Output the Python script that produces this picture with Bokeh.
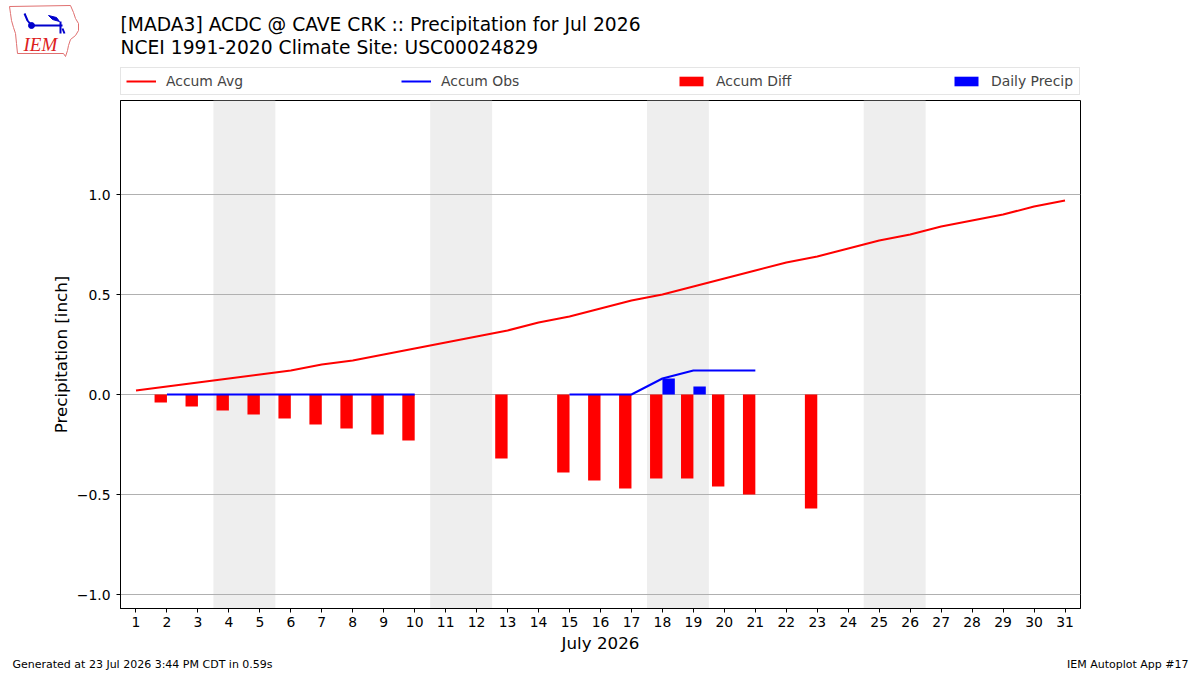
from bokeh.plotting import figure
from bokeh.layouts import column
from bokeh.models import (Legend, LegendItem, Title, BoxAnnotation, FixedTicker,
                          Range1d, ColumnDataSource, CustomJSTickFormatter)
from bokeh.transform import dodge
from bokeh.core.properties import value
from bokeh.embed import file_html
from bokeh.resources import INLINE

nan = float("nan")

# ---------------- data ----------------
days = list(range(1, 32))
accum_avg = [0.02, 0.04, 0.06, 0.08, 0.10, 0.12, 0.15, 0.17, 0.20, 0.23,
             0.26, 0.29, 0.32, 0.36, 0.39, 0.43, 0.47, 0.50, 0.54, 0.58,
             0.62, 0.66, 0.69, 0.73, 0.77, 0.80, 0.84, 0.87, 0.90, 0.94, 0.97]
accum_obs = [nan, 0, 0, 0, 0, 0, 0, 0, 0, 0,
             nan, nan, 0, nan, 0, 0, 0, 0.08, 0.12, 0.12,
             0.12, nan, 0.12, nan, nan, nan, nan, nan, nan, nan, nan]
diff_days = [2, 3, 4, 5, 6, 7, 8, 9, 10, 13, 15, 16, 17, 18, 19, 20, 21, 23]
diff_vals = [-0.04, -0.06, -0.08, -0.10, -0.12, -0.15, -0.17, -0.20, -0.23,
             -0.32, -0.39, -0.43, -0.47, -0.42, -0.42, -0.46, -0.50, -0.57]
precip_days = [18, 19]
precip_vals = [0.08, 0.04]
weekend_days = [4, 5, 11, 12, 18, 19, 25, 26]
y_ticks = [-1.0, -0.5, 0.0, 0.5, 1.0]
series_labels = ["Accum Avg", "Accum Obs", "Accum Diff", "Daily Precip"]

title1 = "[MADA3] ACDC @ CAVE CRK :: Precipitation for Jul 2026"
title2 = "NCEI 1991-2020 Climate Site: USC00024829"
footer_left = "Generated at 23 Jul 2026 3:44 PM CDT in 0.59s"
footer_right = "IEM Autoplot App #17"

# ---------------- layout constants ----------------
W, H = 1200, 675
HEAD = 96                      # header strip height (titles, logo, legend)
FL, FR, FT, FB = 120, 120, 4, 67
FONT = "DejaVu Sans"

# ================= header strip =================
h = figure(width=W, height=HEAD, output_backend="svg", toolbar_location=None,
           min_border=0, x_axis_type=None, y_axis_type=None)
p = figure(width=W, height=H - HEAD, x_range=Range1d(0.5, 31.5), y_range=Range1d(-1.07, 1.47),
           output_backend="svg", toolbar_location=None,
           min_border_left=FL, min_border_right=FR, min_border_top=FT, min_border_bottom=FB)

# keep the header's frame full-width (do not align it with the chart's frame)
try:
    h.frame_align = False
    p.frame_align = False
    HX0, HX1 = 0, W
except Exception:
    HX0, HX1 = FL, W - FR
h.x_range = Range1d(HX0, HX1)
h.y_range = Range1d(HEAD, 0)

h.grid.visible = False
h.outline_line_color = None
h.background_fill_color = "white"
h.border_fill_color = "white"

h.text(x=[120, 120], y=[24, 47], text=[title1, title2], text_font=value(FONT),
       text_font_size="18.7px", text_baseline="middle", text_align="left",
       text_color="black")

# logo (IEM: Iowa outline, weather vane, "IEM")
iowa_x = [9, 70, 73, 75, 78, 78, 75, 70, 68, 67, 65, 63, 17, 16, 15, 13, 11, 10]
iowa_y = [6, 5, 12, 18, 23, 30, 35, 39, 45, 50, 56, 53, 53, 43, 33, 27, 20, 13]
h.patch(iowa_x, iowa_y, fill_color=None, line_color="#e07070", line_width=1)
h.multi_line(xs=[[24, 27, 31], [31, 62], [60, 60], [62, 64]],
             ys=[[13, 20, 25], [25, 25], [21, 33], [28, 33]],
             line_color="#0000cc", line_width=2)
h.patch([48, 56, 59, 52], [15, 17, 21, 19], fill_color="#0000cc", line_color="#0000cc")
h.scatter([31], [25], size=6, fill_color="#0000cc", line_color="#0000cc")
h.text(x=[23], y=[44], text=["IEM"], text_font=value("Liberation Serif"),
       text_font_style="italic", text_font_size="19px", text_color="#dd2020",
       text_baseline="middle", text_align="left")

# legend: proxy renderers carrying the same styles as the chart's series
d_avg = h.line([-50, -40], [-50, -50], line_color="red", line_width=2)
d_obs = h.line([-50, -40], [-50, -50], line_color="blue", line_width=2)
d_diff = h.vbar(x=[-50], top=[-50], width=1, fill_color="red", line_color=None)
d_prec = h.vbar(x=[-50], top=[-50], width=1, fill_color="blue", line_color=None)
legend = Legend(items=[LegendItem(label=lbl, renderers=[r]) for lbl, r in
                       zip(series_labels, [d_avg, d_obs, d_diff, d_prec])],
                orientation="horizontal", location=(FL - HX0, HEAD - 95), margin=0,
                padding=5, spacing=152, glyph_width=30, glyph_height=12,
                label_standoff=10, label_width=83,
                label_text_font=FONT, label_text_font_size="13.9px",
                border_line_color="#cccccc", border_line_width=1,
                background_fill_color="white", background_fill_alpha=1.0)
h.add_layout(legend)

# ================= main chart =================
p.background_fill_color = "white"
p.border_fill_color = "white"
p.outline_line_color = "black"
p.outline_line_width = 1

pairs = [(weekend_days[i], weekend_days[i + 1]) for i in range(0, len(weekend_days), 2)]
for a, b in pairs:
    p.add_layout(BoxAnnotation(left=a - 0.5, right=b + 0.5, fill_color="#eeeeee",
                               fill_alpha=1.0, line_color=None, level="image"))

p.xgrid.visible = False
p.ygrid.grid_line_color = "#b0b0b0"
p.ygrid.grid_line_width = 1
p.ygrid.ticker = FixedTicker(ticks=y_ticks)

p.xaxis.ticker = FixedTicker(ticks=days)
p.yaxis.ticker = FixedTicker(ticks=y_ticks)
p.yaxis.formatter = CustomJSTickFormatter(
    code="return (tick < 0 ? '\u2212' : '') + Math.abs(tick).toFixed(1);")
for ax in (p.xaxis[0], p.yaxis[0]):
    ax.major_tick_in = 0
    ax.major_tick_out = 4
    ax.minor_tick_in = 0
    ax.minor_tick_out = 0
    ax.axis_line_color = "black"
    ax.major_tick_line_color = "black"
    ax.major_label_text_font = FONT
    ax.major_label_text_font_size = "13.9px"
    ax.major_label_text_color = "black"
    ax.axis_label_text_font = FONT
    ax.axis_label_text_font_size = "16.7px"
    ax.axis_label_text_font_style = "normal"
    ax.axis_label_text_color = "black"
p.xaxis.axis_label = "July 2026"
p.yaxis.axis_label = "Precipitation [inch]"
p.xaxis.major_label_standoff = 4
p.xaxis.axis_label_standoff = 3
p.yaxis.major_label_standoff = 6
p.yaxis.axis_label_standoff = 3

src_line = ColumnDataSource(dict(day=days, avg=accum_avg, obs=accum_obs))
src_diff = ColumnDataSource(dict(day=diff_days, val=diff_vals))
src_prec = ColumnDataSource(dict(day=precip_days, val=precip_vals))

p.vbar(x=dodge("day", -0.2, range=p.x_range), width=0.4, top="val", bottom=0,
       source=src_diff, fill_color="red", line_color=None)
p.vbar(x=dodge("day", 0.2, range=p.x_range), width=0.4, top="val", bottom=0,
       source=src_prec, fill_color="blue", line_color=None)
p.line("day", "avg", source=src_line, line_color="red", line_width=2)
p.line("day", "obs", source=src_line, line_color="blue", line_width=2)

# footers (second one pulled up with a negative standoff onto the same row)
p.add_layout(Title(text=footer_left, align="left", offset=12 - FL, vertical_align="top",
                   standoff=4, text_font=FONT, text_font_size="11px",
                   text_font_style="normal", text_color="black"), "below")
p.add_layout(Title(text=footer_right, align="right", offset=-(W - 12 - (W - FR)),
                   vertical_align="top", standoff=-34, text_font=FONT,
                   text_font_size="11px", text_font_style="normal",
                   text_color="black"), "below")

layout = column(h, p, spacing=0)
open("out.html", "w").write(file_html(layout, INLINE))
